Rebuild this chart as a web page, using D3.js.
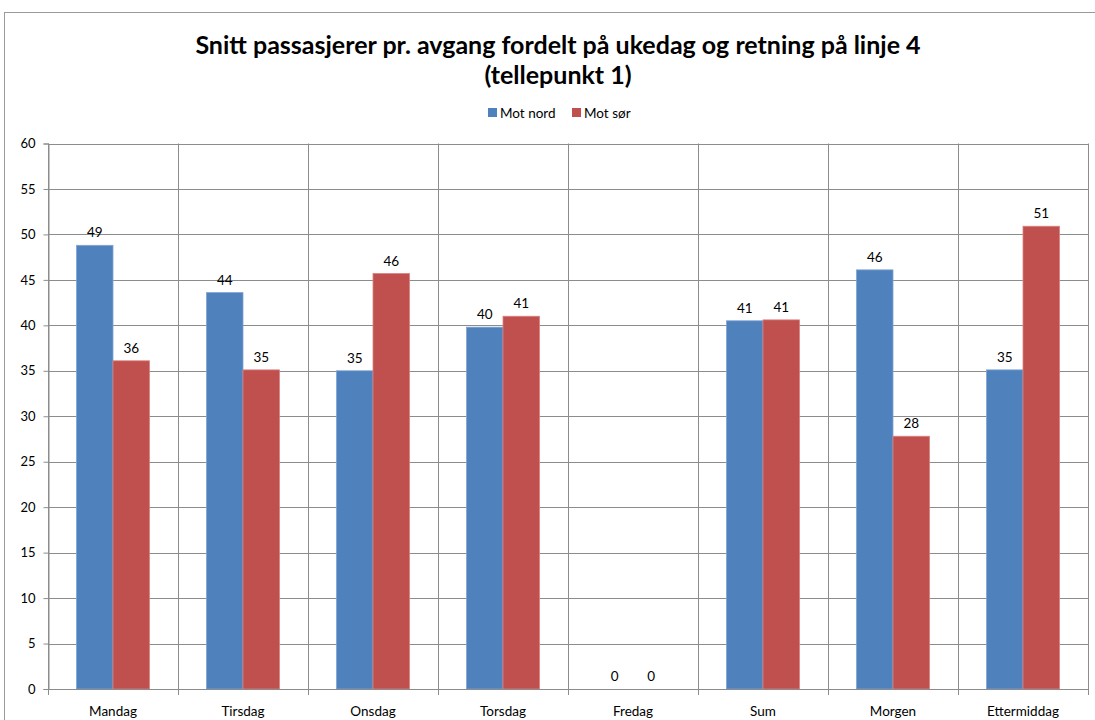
<!DOCTYPE html>
<html><head><meta charset="utf-8">
<script src="https://cdn.jsdelivr.net/npm/d3@7/dist/d3.min.js"></script>
<style>body{margin:0;background:#fff}svg{display:block}</style>
</head><body>
<svg id="c" width="1095" height="720"></svg>
<script>
const categories = ["Mandag","Tirsdag","Onsdag","Torsdag","Fredag","Sum","Morgen","Ettermiddag"];
const seriesNames = ["Mot nord","Mot sør"];
const motNord = [48.8, 43.6, 35.0, 39.8, 0, 40.5, 46.1, 35.1];
const motSor  = [36.1, 35.1, 45.7, 41.0, 0, 40.6, 27.8, 50.9];
const yTicks = [0,5,10,15,20,25,30,35,40,45,50,55,60];
const colors = ["#4F81BD","#C0504D"];

const svg = d3.select("#c");
const font = "Lato, 'Open Sans', sans-serif";
const L = 48, R = 1088, T = 143.5, B = 689;

// outer border
svg.append("rect").attr("x",4.5).attr("y",12.5).attr("width",1100).attr("height",720)
  .attr("fill","none").attr("stroke","#9a9a9a").attr("stroke-width",1);

const x0 = d3.scaleBand().domain(categories).range([L,R]).paddingInner(0).paddingOuter(0);
const x1 = d3.scaleBand().domain(seriesNames).range([28.5, x0.bandwidth()-28.5]).padding(0);
const y = d3.scaleLinear().domain([0,60]).range([B,T]);

const grid = "#8c8c8c";
svg.append("g").selectAll("line").data(yTicks).join("line")
  .attr("x1",L).attr("x2",R).attr("y1",d=>Math.round(y(d))+0.5).attr("y2",d=>Math.round(y(d))+0.5)
  .attr("stroke",grid).attr("stroke-width",1);
const bounds = categories.map(c=>x0(c)).concat([R]);
svg.append("g").selectAll("line").data(bounds).join("line")
  .attr("x1",d=>Math.round(d)+0.5).attr("x2",d=>Math.round(d)+0.5)
  .attr("y1",T).attr("y2",B+6).attr("stroke",grid);

const yAxis = d3.axisLeft(y).tickValues(yTicks).tickSize(5).tickPadding(8);
const ya = svg.append("g").attr("transform",`translate(${L+0.5},0)`).call(yAxis);
ya.select(".domain").attr("stroke",grid);
ya.selectAll(".tick line").attr("stroke",grid);
ya.selectAll("text").attr("font-family",font).attr("font-size",13).attr("fill","#000");

const data = categories.map((c,i)=>({c, vals:[motNord[i],motSor[i]]}));
const groups = svg.append("g").selectAll("g").data(data).join("g")
  .attr("transform",d=>`translate(${x0(d.c)},0)`);
groups.selectAll("rect").data(d=>d.vals.map((v,j)=>({v,s:seriesNames[j],j}))).join("rect")
  .attr("x",d=>x1(d.s)).attr("width",x1.bandwidth())
  .attr("y",d=>y(d.v)).attr("height",d=>B-y(d.v))
  .attr("fill",d=>colors[d.j])
  .attr("stroke",d=>d.j===0?"#7fa3d3":"#d98280").attr("stroke-width",d=>d.v>0?0.8:0);
groups.selectAll("text").data(d=>d.vals.map((v,j)=>({v,s:seriesNames[j],j}))).join("text")
  .attr("x",d=>x1(d.s)+x1.bandwidth()/2).attr("y",d=>y(d.v)-8)
  .attr("text-anchor","middle").attr("font-family",font).attr("font-size",13.5).attr("fill","#000")
  .text(d=>d3.format(".0f")(d.v));

svg.append("line").attr("x1",L).attr("x2",R).attr("y1",B+0.5).attr("y2",B+0.5).attr("stroke",grid);
svg.append("g").selectAll("text").data(categories).join("text")
  .attr("x",d=>x0(d)+x0.bandwidth()/2).attr("y",716)
  .attr("text-anchor","middle").attr("font-family",font).attr("font-size",13.5).attr("fill","#000")
  .text(d=>d);

const title = svg.append("text").attr("text-anchor","middle").attr("font-family",font)
  .attr("font-weight","bold").attr("font-size",25).attr("fill","#000");
title.append("tspan").attr("x",558).attr("y",54).text("Snitt passasjerer pr. avgang fordelt på ukedag og retning på linje 4");
title.append("tspan").attr("x",558).attr("y",84).text("(tellepunkt 1)");

const leg = svg.append("g").attr("transform","translate(488,108)");
const legX = [0, 84];
seriesNames.forEach((s,i)=>{
  leg.append("rect").attr("x",legX[i]).attr("y",0).attr("width",9).attr("height",9).attr("fill",colors[i]);
  leg.append("text").attr("x",legX[i]+12).attr("y",9.5).attr("font-family",font).attr("font-size",13.5).attr("fill","#000").text(s);
});
</script>
</body></html>
